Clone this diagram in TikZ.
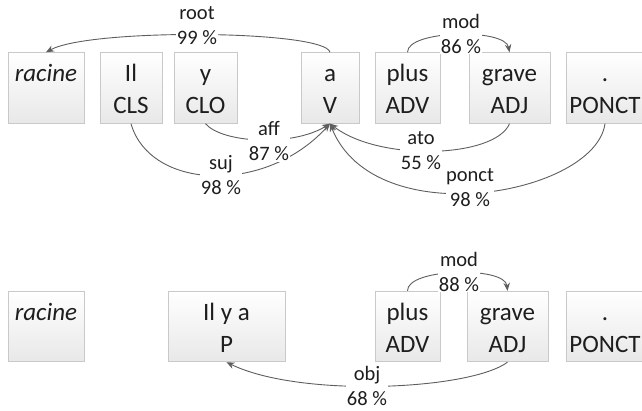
\documentclass[tikz,border=0pt]{standalone}
\usepackage{fontspec}
\setmainfont{Carlito}
\usetikzlibrary{arrows.meta}
\definecolor{txt}{HTML}{1E1E1E}
\definecolor{edge}{HTML}{5E5E5E}
\definecolor{boxline}{HTML}{C9C9C9}
\newcommand\topstrut{\rule{0pt}{29pt}}
\tikzset{
  wordbox/.style={rectangle, draw=boxline, line width=0.8pt, top color=white, bottom color=black!9,
    inner sep=0pt, align=center, text=txt, font=\fontsize{25}{32}\selectfont, minimum height=68pt},
  deplabel/.style={fill=white, inner sep=0.5pt, align=center, text=txt, font=\fontsize{20.5}{25}\selectfont},
  dep/.style={draw=edge, line width=0.9pt, -{Stealth[length=8pt,width=6.5pt]}},
}
\begin{document}
\begin{tikzpicture}[x=1pt,y=-1pt]
\useasboundingbox (0,0) rectangle (642,411);
% top sentence
\node[wordbox, minimum width=76pt] (racA) at (46,88) {\topstrut\textit{racine}\\\strut};
\node[wordbox, minimum width=62pt] (il) at (131,88) {\topstrut Il\\\strut CLS};
\node[wordbox, minimum width=63pt] (y) at (205.5,88) {\topstrut y\\\strut CLO};
\node[wordbox, minimum width=58pt] (av) at (330,88) {\topstrut a\\\strut V};
\node[wordbox, minimum width=65pt] (plusA) at (407.5,88) {\topstrut plus\\\strut ADV};
\node[wordbox, minimum width=81pt] (graveA) at (509.5,88) {\topstrut grave\\\strut ADJ};
\node[wordbox, minimum width=78pt] (pontA) at (605,88) {\topstrut .\\\strut PONCT};
% bottom sentence
\node[wordbox, minimum width=76pt] (racB) at (46,326.5) {\topstrut\textit{racine}\\\strut};
\node[wordbox, minimum width=117pt] (ilya) at (226.5,326.5) {\topstrut Il y a\\\strut P};
\node[wordbox, minimum width=65pt] (plusB) at (407.5,326.5) {\topstrut plus\\\strut ADV};
\node[wordbox, minimum width=81pt] (graveB) at (507.5,326.5) {\topstrut grave\\\strut ADJ};
\node[wordbox, minimum width=78pt] (pontB) at (605,326.5) {\topstrut .\\\strut PONCT};
% arcs top
\draw[dep] (av.north) .. controls (325,30) and (90,28) .. (racA.north);
\draw[dep] (plusA.north) .. controls (407,30) and (505,28) .. (graveA.north);
\draw[dep] (y.south) .. controls (222,143) and (292,147) .. (av.south);
\draw[dep] (il.south) .. controls (150,190) and (265,195) .. (av.south);
\draw[dep] (graveA.south) .. controls (495,158) and (380,162) .. (av.south);
\draw[dep] (pontA.south) .. controls (595,195) and (375,235) .. (av.south);
% arcs bottom
\draw[dep] (plusB.north) .. controls (407,268) and (505,266) .. (graveB.north);
\draw[dep] (graveB.south) .. controls (470,390) and (300,398) .. (ilya.south);
% labels
\node[deplabel] (lroot) at (197,25.5) {root\\99 \%};
\node[deplabel] (lmodA) at (461,33.5) {mod\\86 \%};
\node[deplabel] (laff) at (269,141.5) {aff\\87 \%};
\node[deplabel] (lsuj) at (221,175.5) {suj\\98 \%};
\node[deplabel] (lato) at (421,151) {ato\\55 \%};
\node[deplabel] (lponct) at (470,187.5) {ponct\\98 \%};
\node[deplabel] (lmodB) at (459,271.5) {mod\\88 \%};
\node[deplabel] (lobj) at (367,385.5) {obj\\68 \%};
\end{tikzpicture}
\end{document}
